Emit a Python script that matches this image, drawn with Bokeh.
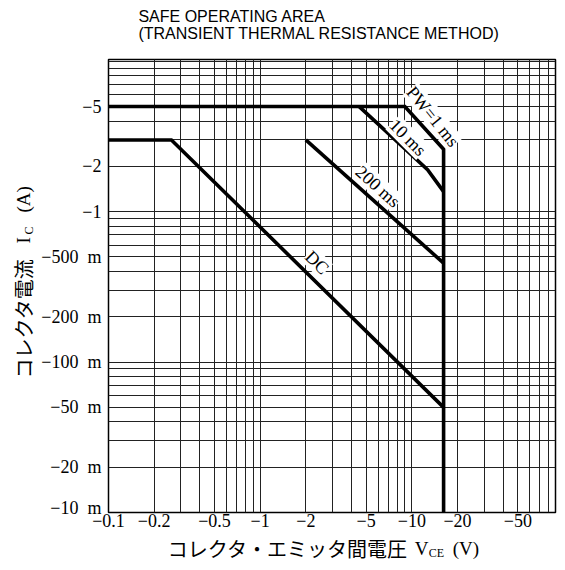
import math
from bokeh.plotting import figure
from bokeh.layouts import row, column
from bokeh.models import FixedTicker, Label, Range1d
from bokeh.embed import file_html
from bokeh.resources import INLINE

# ---- data -------------------------------------------------------------
x_ticks = [0.1, 0.2, 0.5, 1, 2, 5, 10, 20, 50]
x_tick_labels = ["−0.1", "−0.2", "−0.5", "−1", "−2", "−5", "−10", "−20", "−50"]
y_ticks = [0.01, 0.02, 0.05, 0.1, 0.2, 0.5, 1, 2, 5]
y_tick_labels = ["−10\u2002m", "−20\u2002m", "−50\u2002m", "−100\u2002m", "−200\u2002m",
                 "−500\u2002m", "−1", "−2", "−5"]

# |V_CE| (V) and |I_C| (A) of the boundaries
pw1ms_v = [0.1, 9.0, 16.2, 16.2]
pw1ms_i = [5.0, 5.0, 2.6, 0.01]
pw10ms_v = [4.5, 12.7, 16.2]
pw10ms_i = [5.0, 1.9, 1.36]
pw200ms_v = [2.0, 16.2]
pw200ms_i = [3.0, 0.455]
dc_v = [0.1, 0.26, 16.2]
dc_i = [3.0, 3.0, 0.05]

curve_names = ["PW=1 ms", "10 ms", "200 ms", "DC"]

# log grid (1..9 per decade)
x_grid = [m * 10.0 ** e for e in (-1, 0, 1) for m in range(1, 10)] + [100.0]
y_grid = [m * 10.0 ** e for e in (-2, -1, 0) for m in range(1, 10)] + [10.0]

# ---- layout constants (page pixels) -----------------------------------
TOTAL_W, TOTAL_H = 557, 562
YL_W = 38                      # width of the y-label strip
TITLE_H = 45
XL_H = 29
MAIN_W = TOTAL_W - YL_W
MAIN_H = TOTAL_H - TITLE_H - XL_H
FRAME_L, FRAME_R, FRAME_T, FRAME_B = 107, 555, 59, 512
FX0, FDX = 107.0, 152.0        # page x of V=0.1, px per decade
FY0, FDY = 512.0, 150.4        # page y of I=0.01, px per decade


def vx(px):
    return 0.1 * 10 ** ((px - FX0) / FDX)


def iy(py):
    return 0.01 * 10 ** ((FY0 - py) / FDY)


SERIF = "Liberation Serif"
CJK = "Noto Sans CJK JP"
SANS = "Liberation Sans"

p = figure(width=MAIN_W, height=MAIN_H, x_axis_type="log", y_axis_type="log",
           x_range=Range1d(0.1, vx(FRAME_R)), y_range=Range1d(0.01, iy(FRAME_T)),
           output_backend="svg", toolbar_location=None,
           min_border_left=FRAME_L - YL_W, min_border_right=TOTAL_W - FRAME_R,
           min_border_top=FRAME_T - TITLE_H,
           min_border_bottom=TITLE_H + MAIN_H - FRAME_B)
p.background_fill_color = "white"
p.border_fill_color = "white"
p.outline_line_color = "black"
p.outline_line_width = 1.5

# as in the reference, the bottom "−10 m" label sits a little above its line
y_label_at = list(y_ticks)
y_label_at[0] = iy(FY0 - 5)

for ax, ticks, labels in ((p.xaxis, x_ticks, x_tick_labels),
                          (p.yaxis, y_label_at, y_tick_labels)):
    ax.ticker = FixedTicker(ticks=ticks, minor_ticks=[])
    ax.major_label_overrides = dict(zip(ticks, labels))
    ax.major_tick_in = 0
    ax.major_tick_out = 0
    ax.minor_tick_in = 0
    ax.minor_tick_out = 0
    ax.axis_line_color = None
    ax.major_label_text_font = SERIF
    ax.major_label_text_font_size = "18px"
    ax.major_label_text_color = "black"
p.xaxis.major_label_standoff = 1
p.yaxis.major_label_standoff = 7

p.xgrid.ticker = FixedTicker(ticks=x_grid, minor_ticks=[])
p.ygrid.ticker = FixedTicker(ticks=y_grid, minor_ticks=[])
for g in (p.xgrid, p.ygrid):
    g.grid_line_color = "#222222"
    g.grid_line_width = 1
    g.minor_grid_line_color = None

for xs, ys in ((pw1ms_v, pw1ms_i), (pw10ms_v, pw10ms_i),
               (pw200ms_v, pw200ms_i), (dc_v, dc_i)):
    p.line(xs, ys, line_color="black", line_width=3.6, line_join="miter")

# curve labels (page pixel centre, angle in degrees)
label_pos = [(432, 116, -51), (407, 137, -45), (377, 186, -42), (316, 262, -45)]
for name, (px, py, ang) in zip(curve_names, label_pos):
    p.add_layout(Label(x=vx(px), y=iy(py), text=name, angle=math.radians(ang),
                       text_align="center", text_baseline="middle",
                       text_font=SERIF, text_font_size="18px", text_color="black",
                       background_fill_color="white", background_fill_alpha=1.0))


def text_fig(w, h, left=0, right=0, x0=0.0, x1=None, y0=0.0):
    # x range is in page pixels of the frame; y range counts page pixels too
    if x1 is None:
        x1 = x0 + w - left - right
    f = figure(width=w, height=h, x_range=Range1d(x0, x1), y_range=Range1d(y0 + h, y0),
               x_axis_location=None, y_axis_location=None,
               output_backend="svg", toolbar_location=None,
               min_border_left=left, min_border_right=right,
               min_border_top=0, min_border_bottom=0)
    f.grid.visible = False
    f.outline_line_color = None
    f.background_fill_color = "white"
    f.border_fill_color = "white"
    return f


def put(f, px, py, text, font, size, align="left", angle=0.0):
    f.add_layout(Label(x=px, y=py, text=text, angle=angle,
                       text_align=align, text_baseline="middle", text_font=font,
                       text_font_size=size, text_color="black"))


# title strip (frame aligned with the chart frame, as the column aligns them)
tf = text_fig(MAIN_W, TITLE_H, FRAME_L - YL_W, TOTAL_W - FRAME_R,
              x0=FRAME_L, x1=FRAME_R, y0=0)
put(tf, 137, 15.5, "SAFE OPERATING AREA", SANS, "16px")
put(tf, 137, 33, "(TRANSIENT THERMAL RESISTANCE METHOD)", SANS, "16px")

# x-label strip
XY0 = TITLE_H + MAIN_H
xf = text_fig(MAIN_W, XL_H, FRAME_L - YL_W, TOTAL_W - FRAME_R,
              x0=FRAME_L, x1=FRAME_R, y0=XY0)
XL_Y = XY0 + XL_H / 2
put(xf, 407, XL_Y, "コレクタ・エミッタ間電圧", CJK, "20px", align="right")
put(xf, 414, XL_Y, "V", SERIF, "19px")
put(xf, 428, XL_Y + 5, "CE", SERIF, "12px")
put(xf, 452, XL_Y, "(V)", SERIF, "19px")

# y-label strip (rotated, reads bottom to top)
yf = text_fig(YL_W, TOTAL_H, y0=0)
up = math.pi / 2
YL_X = 23
put(yf, YL_X, 258, "コレクタ電流", CJK, "20px", align="right", angle=up)
put(yf, YL_X, 243, "I", SERIF, "19px", angle=up)
put(yf, YL_X + 5, 234, "C", SERIF, "12px", angle=up)
put(yf, YL_X, 212, "(A)", SERIF, "19px", angle=up)

layout = row(yf, column(tf, p, xf))
open("out.html", "w").write(file_html(layout, INLINE))
